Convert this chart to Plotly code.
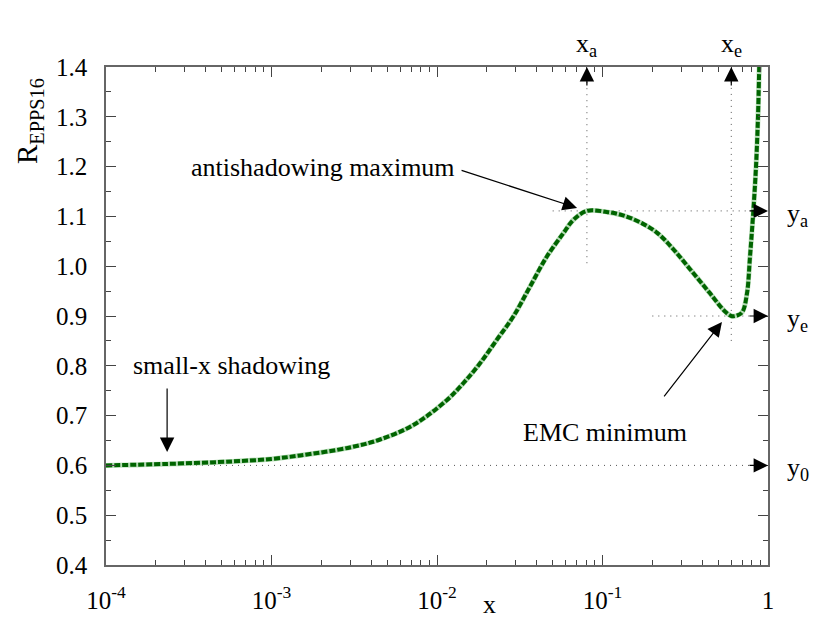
import numpy as np
import plotly.graph_objects as go

# nuclear modification curve
x_vals = [1e-4, 2.34e-4, 5.85e-4, 1.0e-3, 1.49e-3, 2.98e-3, 4.53e-3, 7.19e-3,
          1.146e-2, 1.442e-2, 1.82e-2, 2.296e-2, 2.891e-2, 3.648e-2, 4.603e-2,
          5.794e-2, 6.668e-2, 8.05e-2, 0.106, 0.133, 0.169, 0.214, 0.268, 0.338,
          0.44, 0.546, 0.6, 0.65, 0.70, 0.747, 0.778, 0.811, 0.846, 0.87, 0.885]
r_vals = [0.600, 0.603, 0.608, 0.613, 0.620, 0.636, 0.652, 0.681,
          0.731, 0.765, 0.805, 0.852, 0.899, 0.959, 1.019,
          1.066, 1.093, 1.111, 1.109, 1.102, 1.088, 1.067, 1.034, 0.994,
          0.948, 0.910, 0.900, 0.901, 0.908, 0.946, 1.018, 1.099, 1.199, 1.300, 1.400]

x_ticks = [1e-4, 1e-3, 1e-2, 1e-1, 1]
x_ticktext = ['10<sup>-4</sup>', '10<sup>-3</sup>', '10<sup>-2</sup>', '10<sup>-1</sup>', '1']
y_ticks = [0.4, 0.5, 0.6, 0.7, 0.8, 0.9, 1.0, 1.1, 1.2, 1.3, 1.4]

FONT = 'Liberation Serif, Times New Roman, serif'

x = np.array(x_vals)
r = np.array(r_vals)
y0 = r[0]
i_a = int(np.argmax(r[:25]))
xa, ya = x[i_a], r[i_a]
i_e = i_a + int(np.argmin(r[i_a:30]))
xe, ye = x[i_e], r[i_e]

fig = go.Figure()

# dotted guide lines
guide = dict(color='#555', width=1, dash='1px,5px')
fig.add_trace(go.Scatter(x=[1e-4, 1], y=[y0, y0], mode='lines', line=guide, hoverinfo='skip'))
fig.add_trace(go.Scatter(x=[0.05, 1], y=[ya, ya], mode='lines', line=guide, hoverinfo='skip'))
fig.add_trace(go.Scatter(x=[0.2, 1], y=[ye, ye], mode='lines', line=guide, hoverinfo='skip'))
fig.add_trace(go.Scatter(x=[xa, xa], y=[1.006, 1.38], mode='lines', line=guide, hoverinfo='skip'))
fig.add_trace(go.Scatter(x=[xe, xe], y=[0.85, 1.38], mode='lines', line=guide, hoverinfo='skip'))

# curve: pale underlay with dark green dashes on top
fig.add_trace(go.Scatter(x=x, y=r, mode='lines', line_shape='spline',
                         line=dict(color='#b5dcb5', width=5), hoverinfo='skip'))
fig.add_trace(go.Scatter(x=x, y=r, mode='lines', line_shape='spline',
                         line=dict(color='#006400', width=4, dash='6px,2px')))

lx = np.log10
arrow = dict(showarrow=True, arrowhead=2, arrowsize=2.4, arrowwidth=1.2,
             arrowcolor='black', text='', xref='x', yref='y')

annotations = [
    # arrows to features
    dict(arrow, x=lx(0.0702), y=1.117, ax=-117, ay=-38),
    dict(arrow, x=lx(2.34e-4), y=0.627, ax=0, ay=-65),
    dict(arrow, x=lx(0.527), y=0.888, ax=-59, ay=76),
    # arrowheads on guides
    dict(arrow, x=lx(xa), y=1.4, ax=0, ay=20),
    dict(arrow, x=lx(xe), y=1.4, ax=0, ay=20),
    dict(arrow, x=0, y=ya, ax=-20, ay=0),
    dict(arrow, x=0, y=ye, ax=-20, ay=0),
    dict(arrow, x=0, y=y0, ax=-20, ay=0),
]

txt = dict(showarrow=False, font=dict(family=FONT, size=26, color='black'),
           xanchor='center', yanchor='middle')
annotations += [
    dict(txt, text='antishadowing maximum', x=-2.689, y=1.199, xref='x', yref='y'),
    dict(txt, text='small-x shadowing', x=-3.239, y=0.80, xref='x', yref='y'),
    dict(txt, text='EMC minimum', x=-0.985, y=0.667, xref='x', yref='y'),
    dict(txt, text='x<sub>a</sub>', x=lx(xa), y=1.044, xref='x', yref='paper'),
    dict(txt, text='x<sub>e</sub>', x=lx(xe), y=1.044, xref='x', yref='paper'),
    dict(txt, text='y<sub>a</sub>', x=1.026, y=ya - 0.008, xref='paper', yref='y', xanchor='left'),
    dict(txt, text='y<sub>e</sub>', x=1.026, y=ye - 0.008, xref='paper', yref='y', xanchor='left'),
    dict(txt, text='y<sub>0</sub>', x=1.026, y=y0 - 0.008, xref='paper', yref='y', xanchor='left'),
    dict(txt, text='x', x=0.58, y=-0.08, xref='paper', yref='paper'),
    dict(txt, text='R<sub>EPPS16</sub>', textangle=-90, x=-0.116, y=0.892,
         xref='paper', yref='paper', font=dict(family=FONT, size=29, color='black')),
]

x_minor = [k * 10.0 ** e for e in range(-4, 0) for k in range(2, 10)]

fig.update_layout(
    width=830, height=632,
    margin=dict(l=98, r=70, t=59, b=75),
    plot_bgcolor='white', paper_bgcolor='white',
    showlegend=False,
    font=dict(family=FONT, size=25, color='black'),
    annotations=annotations,
)
fig.update_xaxes(
    type='log', range=[-4, 0], tickvals=x_ticks, ticktext=x_ticktext,
    ticks='inside', ticklen=10, tickcolor='#444', ticklabelstandoff=12,
    showline=True, linecolor='#666', linewidth=1.5, mirror='ticks',
    showgrid=False, zeroline=False,
    minor=dict(tickvals=x_minor, ticks='inside', ticklen=5, tickcolor='#444', showgrid=False),
)
fig.update_yaxes(
    range=[0.4, 1.4], tickvals=y_ticks, tickformat='.1f',
    ticks='inside', ticklen=10, tickcolor='#444', ticklabelstandoff=12,
    showline=True, linecolor='#666', linewidth=1.5, mirror='ticks',
    showgrid=False, zeroline=False,
    minor=dict(dtick=0.05, ticks='inside', ticklen=5, tickcolor='#444', showgrid=False),
)

fig.write_html("out.html")
